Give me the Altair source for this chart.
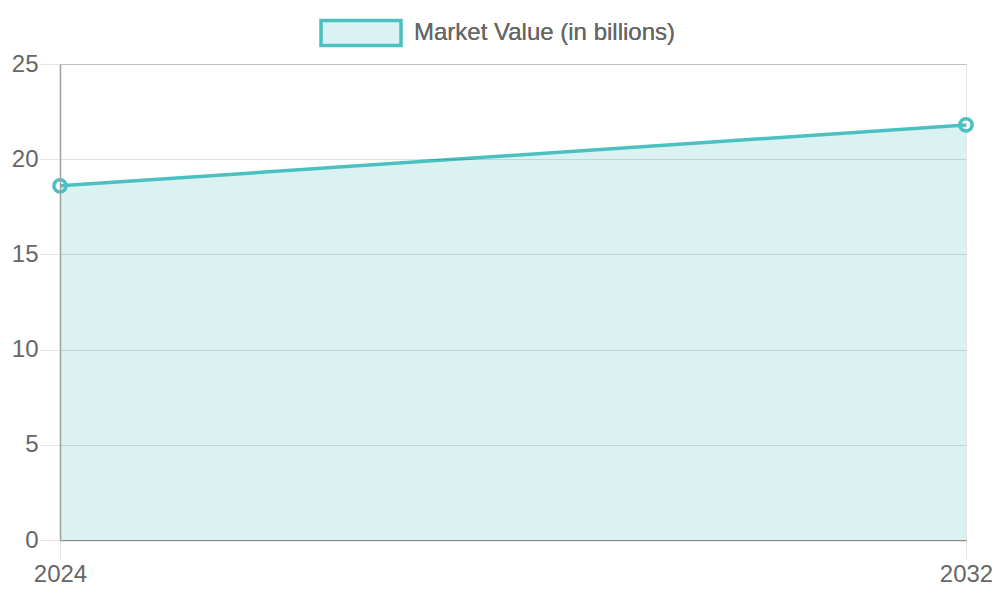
import altair as alt
import pandas as pd

years = ["2024", "2032"]
values = [18.6, 21.8]
series_name = "Market Value (in billions)"

df = pd.DataFrame({"year": years, "value": values, "series": [series_name] * len(years)})

TEAL = "#4bc0c0"
FILL = "#dbf2f2"
FONT = "Liberation Sans"
FS = 24

x_enc = alt.X(
    "year:O",
    scale=alt.Scale(type="point", padding=0),
    axis=alt.Axis(
        title=None, labelAngle=0, labelFontSize=FS, labelColor="#666666", labelFont=FONT,
        labelPadding=3, tickSize=19, tickColor="#e5e5e5", grid=True, gridColor="#e5e5e5",
        domainColor="#a0a0a0", domainWidth=1.5, labelFlush=False,
    ),
)
y_enc = alt.Y(
    "value:Q",
    scale=alt.Scale(domain=[0, 25], nice=False, zero=True),
    axis=alt.Axis(
        title=None, values=[0, 5, 10, 15, 20, 25], labelFontSize=FS, labelColor="#666666",
        labelFont=FONT, labelPadding=2, tickSize=20, tickColor="#e5e5e5", grid=True,
        gridColor="black", gridOpacity=0.12, domainColor="#a0a0a0", domainWidth=1.5,
        zindex=1, labelFlush=False,
    ),
)

legend = alt.Legend(
    title=None, orient="none", legendX=259, legendY=-73,
    symbolType="M-1,-0.3125L1,-0.3125L1,0.3125L-1,0.3125Z", symbolSize=6400,
    symbolStrokeWidth=3.5, labelFontSize=FS, labelColor="#666666", labelFont=FONT,
    labelOffset=11, labelLimit=600,
)

area = alt.Chart(df).mark_area(interpolate="linear").encode(
    x=x_enc, y=y_enc,
    fill=alt.Fill("series:N", scale=alt.Scale(range=[FILL]), legend=legend),
)
line = alt.Chart(df).mark_line(strokeWidth=3.5).encode(
    x=x_enc, y=y_enc,
    stroke=alt.Stroke("series:N", scale=alt.Scale(range=[TEAL]), legend=legend),
)
points = alt.Chart(df).mark_point(filled=False, size=150, strokeWidth=3.5, color=TEAL, opacity=1).encode(
    x=x_enc, y=y_enc,
)

chart = alt.layer(area, line, points).properties(
    width=906, height=476,
    autosize=alt.AutoSizeParams(type="none"),
    padding={"left": 52, "top": 56, "right": 26, "bottom": 52},
).configure_view(stroke=None).configure(background="white")

chart.save("out.html", embed_options={"renderer": "svg", "actions": False})
